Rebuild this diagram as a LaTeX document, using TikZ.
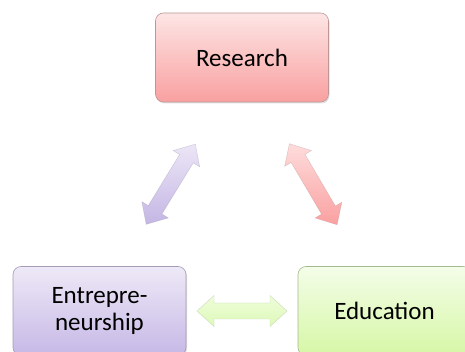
\documentclass[tikz,border=0pt]{standalone}
\usepackage{fontspec}
\setmainfont{Carlito}
\usetikzlibrary{calc,shadows}
\definecolor{rtop}{RGB}{253,229,229}
\definecolor{rbot}{RGB}{249,160,160}
\definecolor{rline}{RGB}{190,150,150}
\definecolor{ptop}{RGB}{238,233,247}
\definecolor{pbot}{RGB}{198,184,230}
\definecolor{pline}{RGB}{165,155,180}
\definecolor{gtop}{RGB}{244,253,232}
\definecolor{gbot}{RGB}{214,247,166}
\definecolor{gline}{RGB}{165,185,145}
\definecolor{artop}{RGB}{254,220,220}
\definecolor{arbot}{RGB}{250,160,160}
\definecolor{aptop}{RGB}{236,230,247}
\definecolor{apbot}{RGB}{196,182,228}
\definecolor{agtop}{RGB}{238,253,218}
\definecolor{agbot}{RGB}{222,249,185}
\tikzset{
  box/.style={draw=#1, rounded corners=8pt, minimum width=173pt, minimum height=89pt,
    inner sep=0pt, font=\fontsize{25}{27}\selectfont, align=center, line width=0.6pt,
    drop shadow={shadow xshift=1pt, shadow yshift=-1.5pt, opacity=0.25}},
  blockarrow/.style={draw=#1, line width=0.4pt, draw opacity=0.5, line join=miter},
}
\newcommand\dblarrowpath[1]{%
  (-#1,0) -- (-#1+17,15.5) -- (-#1+17,8) -- (#1-17,8) -- (#1-17,15.5) -- (#1,0)
  -- (#1-17,-15.5) -- (#1-17,-8) -- (-#1+17,-8) -- (-#1+17,-15.5) -- cycle}
\begin{document}
\begin{tikzpicture}[x=1pt,y=1pt]
\useasboundingbox (0,0) rectangle (465,352);
\node[box=rline, top color=rtop, bottom color=rbot] (R) at (242,294.5) {Research};
\node[box=pline, top color=ptop, bottom color=pbot] (E) at (99.5,41) {Entrepre-\\neurship};
\node[box=gline, top color=gtop, bottom color=gbot] (D) at (384.5,41) {Education};
\coordinate (mRE) at ($(R)!0.5!(E)$);
\coordinate (mRD) at ($(R)!0.5!(D)$);
\coordinate (mED) at ($(E)!0.5!(D)$);
\begin{scope}[shift={(mRE)}, rotate=58.5]
  \path[blockarrow=pline, top color=aptop, bottom color=apbot] \dblarrowpath{47};
\end{scope}
\begin{scope}[shift={(mRD)}, rotate=-59.5]
  \path[blockarrow=rline, top color=artop, bottom color=arbot] \dblarrowpath{47};
\end{scope}
\begin{scope}[shift={(mED)}]
  \path[blockarrow=gline, top color=agtop, bottom color=agbot] \dblarrowpath{45};
\end{scope}
\end{tikzpicture}
\end{document}
